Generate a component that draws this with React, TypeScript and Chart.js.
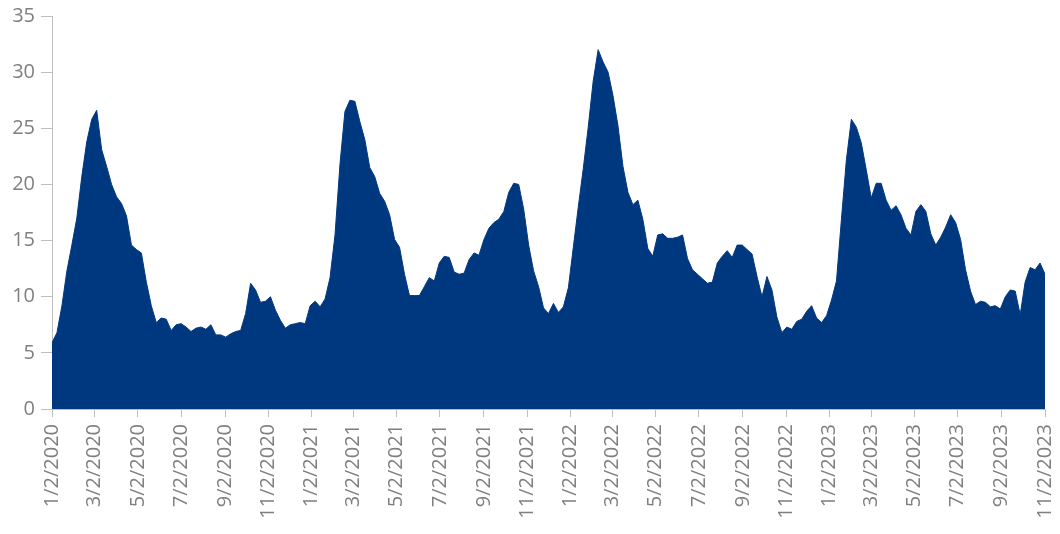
import React, { useEffect, useRef } from "react";
import { Chart, registerables } from "chart.js";

Chart.register(...registerables);

// Weekly series starting 1/2/2020 (one value per week)
const seriesStart = "1/2/2020";
const weeklyValues: number[] = [
  5.9, 6.8, 9.2, 12.3, 14.6, 17.0, 20.7, 23.8, 25.8, 26.6,
  23.1, 21.6, 20.0, 18.9, 18.3, 17.2, 14.6, 14.2, 13.9, 11.3,
  9.2, 7.7, 8.1, 8.0, 7.0, 7.5, 7.6, 7.3, 6.9, 7.2,
  7.3, 7.1, 7.5, 6.6, 6.6, 6.4, 6.7, 6.9, 7.0, 8.5,
  11.2, 10.6, 9.5, 9.6, 10.0, 8.8, 7.9, 7.2, 7.5, 7.6,
  7.7, 7.6, 9.2, 9.6, 9.1, 9.8, 11.7, 15.5, 21.8, 26.5,
  27.5, 27.4, 25.6, 24.0, 21.5, 20.7, 19.2, 18.5, 17.3, 15.1,
  14.4, 12.0, 10.1, 10.1, 10.1, 10.9, 11.7, 11.4, 13.0, 13.6,
  13.5, 12.2, 12.0, 12.1, 13.3, 13.9, 13.7, 15.1, 16.1, 16.6,
  16.9, 17.6, 19.3, 20.1, 20.0, 17.8, 14.6, 12.3, 10.9, 9.0,
  8.5, 9.4, 8.6, 9.1, 10.8, 14.4, 18.0, 21.4, 25.1, 29.2,
  32.0, 30.9, 30.0, 27.9, 25.2, 21.6, 19.3, 18.2, 18.6, 16.9,
  14.3, 13.6, 15.5, 15.6, 15.2, 15.2, 15.3, 15.5, 13.4, 12.4,
  12.0, 11.6, 11.2, 11.3, 13.0, 13.6, 14.1, 13.5, 14.6, 14.6,
  14.2, 13.8, 11.8, 10.0, 11.8, 10.6, 8.2, 6.8, 7.3, 7.1,
  7.8, 8.0, 8.7, 9.2, 8.1, 7.7, 8.3, 9.7, 11.4, 16.9,
  22.2, 25.8, 25.1, 23.7, 21.3, 18.8, 20.1, 20.1, 18.6, 17.7,
  18.1, 17.3, 16.1, 15.5, 17.6, 18.2, 17.6, 15.6, 14.6, 15.3,
  16.2, 17.3, 16.6, 15.1, 12.4, 10.5, 9.3, 9.6, 9.5, 9.1,
  9.2, 8.9, 10.0, 10.6, 10.5, 8.4, 11.3, 12.6, 12.4, 13.0,
  12.0,
];

const xTickLabels: string[] = [
  "1/2/2020", "3/2/2020", "5/2/2020", "7/2/2020", "9/2/2020", "11/2/2020",
  "1/2/2021", "3/2/2021", "5/2/2021", "7/2/2021", "9/2/2021", "11/2/2021",
  "1/2/2022", "3/2/2022", "5/2/2022", "7/2/2022", "9/2/2022", "11/2/2022",
  "1/2/2023", "3/2/2023", "5/2/2023", "7/2/2023", "9/2/2023", "11/2/2023",
];

const yMin = 0;
const yMax = 35;
const yStep = 5;

function toUTC(label: string): number {
  const [m, d, y] = label.split("/").map(Number);
  return Date.UTC(y, m - 1, d);
}
function dayOffset(label: string): number {
  return Math.round((toUTC(label) - toUTC(seriesStart)) / 86400000);
}

export default function App() {
  const canvasRef = useRef<HTMLCanvasElement | null>(null);

  useEffect(() => {
    if (!canvasRef.current) return;
    const tickDays = xTickLabels.map(dayOffset);
    const labelByDay = new Map<number, string>();
    tickDays.forEach((d, i) => labelByDay.set(d, xTickLabels[i]));
    const points = weeklyValues.map((v, i) => ({ x: i * 7, y: v }));
    const axisColor = "#bfbfbf";
    const textColor = "#7f7f7f";
    const font = { family: "'Open Sans'", size: 20 };

    const chart = new Chart(canvasRef.current, {
      type: "line",
      data: {
        datasets: [
          {
            data: points,
            fill: "origin",
            backgroundColor: "#00387f",
            borderColor: "#00387f",
            borderWidth: 1,
            pointRadius: 0,
            tension: 0,
          },
        ],
      },
      options: {
        animation: false,
        responsive: true,
        maintainAspectRatio: false,
        layout: { padding: { top: 16, right: 15, left: 0, bottom: 0 } },
        plugins: { legend: { display: false }, tooltip: { enabled: false } },
        scales: {
          x: {
            type: "linear",
            min: tickDays[0],
            max: tickDays[tickDays.length - 1],
            afterBuildTicks: (scale: any) => {
              scale.ticks = tickDays.map((v) => ({ value: v }));
            },
            afterFit: (scale: any) => {
              scale.height = 125;
              scale.paddingLeft = 0;
              scale.paddingRight = 0;
            },
            ticks: {
              autoSkip: false,
              maxRotation: 90,
              minRotation: 90,
              padding: 7,
              color: textColor,
              font,
              callback: (v: any) => labelByDay.get(Number(v)) ?? "",
            },
            grid: { drawOnChartArea: false, drawTicks: true, tickLength: 8, color: axisColor },
            border: { display: true, color: axisColor, width: 1 },
          },
          y: {
            min: yMin,
            max: yMax,
            afterFit: (scale: any) => {
              scale.width = 52;
              scale.paddingTop = 0;
              scale.paddingBottom = 0;
            },
            ticks: { stepSize: yStep, padding: 6, color: textColor, font },
            grid: { drawOnChartArea: false, drawTicks: true, tickLength: 11, color: axisColor },
            border: { display: true, color: axisColor, width: 1 },
          },
        },
      },
    });
    return () => chart.destroy();
  }, []);

  return (
    <div style={{ position: "absolute", left: 0, top: 0, width: 1060, height: 534, background: "#fff" }}>
      <canvas ref={canvasRef} />
    </div>
  );
}
